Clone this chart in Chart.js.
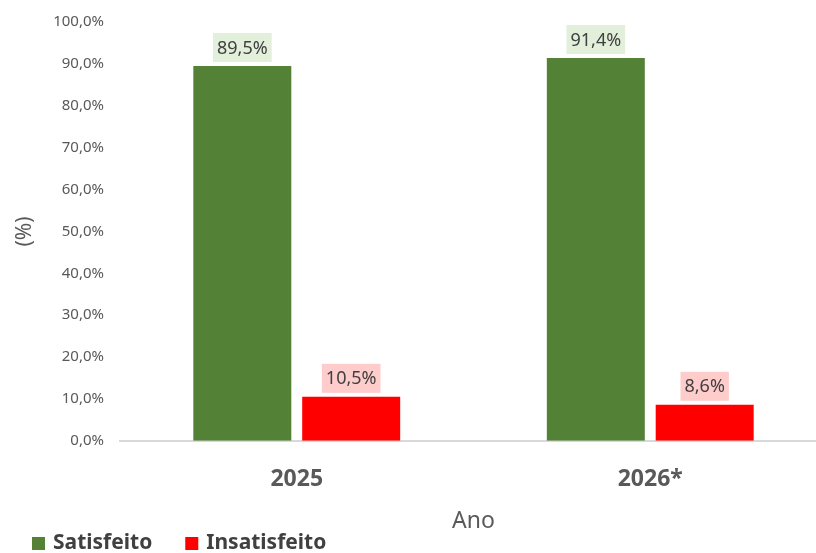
<!DOCTYPE html>
<html>
<head>
<meta charset="utf-8">
<script src="https://cdn.jsdelivr.net/npm/chart.js@4.4.1/dist/chart.umd.min.js"></script>
<style>
    html, body { margin: 0; padding: 0; background: #fff; overflow: hidden; }
    #wrap { width: 816px; height: 553px; overflow: hidden; }
</style>
</head>
<body>
<div id="wrap"><canvas id="chart" width="827" height="553"></canvas></div>
<script>
// --- Data ---
const years = ['2025', '2026*'];
const satisfeito = [89.5, 91.4];
const insatisfeito = [10.5, 8.6];

const FONT = "'Noto Sans', 'Open Sans', sans-serif";

// Draws the value boxes above each bar
const valueLabels = {
    id: 'valueLabels',
    afterDatasetsDraw(chart) {
        const ctx = chart.ctx;
        ctx.save();
        ctx.font = `18px ${FONT}`;
        ctx.textAlign = 'center';
        ctx.textBaseline = 'middle';
        chart.data.datasets.forEach((ds, i) => {
            const meta = chart.getDatasetMeta(i);
            meta.data.forEach((bar, j) => {
                const text = ds.data[j].toFixed(1).replace('.', ',') + '%';
                const w = ctx.measureText(text).width + 8;
                const h = 29;
                const bottom = bar.y - 4;
                ctx.fillStyle = ds.labelBg;
                ctx.fillRect(bar.x - w / 2, bottom - h, w, h);
                ctx.fillStyle = '#404040';
                ctx.fillText(text, bar.x, bottom - h / 2 + 1);
            });
        });
        ctx.restore();
    }
};

// Legend at the bottom-left corner (built-in one couldn't be spaced like the original)
const bottomLegend = {
    id: 'bottomLegend',
    afterDraw(chart) {
        const ctx = chart.ctx;
        ctx.save();
        ctx.font = `bold 21px ${FONT}`;
        ctx.textBaseline = 'middle';
        ctx.textAlign = 'left';
        let x = 32;
        const y = 543;
        chart.data.datasets.forEach(ds => {
            ctx.fillStyle = ds.backgroundColor;
            ctx.fillRect(x, y - 6, 13, 13);
            ctx.fillStyle = '#404040';
            ctx.fillText(ds.label, x + 21, y);
            x += 21 + ctx.measureText(ds.label).width + 33;
        });
        ctx.restore();
    }
};

new Chart(document.getElementById('chart'), {
    type: 'bar',
    data: {
        labels: years,
        datasets: [
            { label: 'Satisfeito', data: satisfeito, backgroundColor: '#538135', labelBg: '#e2efda' },
            { label: 'Insatisfeito', data: insatisfeito, backgroundColor: '#ff0000', labelBg: '#ffcccc' }
        ]
    },
    options: {
        responsive: false,
        animation: false,
        categoryPercentage: 0.616,
        barPercentage: 0.9,
        layout: { padding: { top: 7, left: 8, right: 0, bottom: 18 } },
        plugins: {
            tooltip: { enabled: false },
            legend: { display: false }
        },
        scales: {
            y: {
                min: 0,
                max: 100,
                ticks: {
                    stepSize: 10,
                    color: '#595959',
                    font: { family: FONT, size: 15, lineHeight: 0.8 },
                    padding: 16,
                    callback: v => v.toFixed(1).replace('.', ',') + '%'
                },
                grid: { display: false, drawTicks: false },
                border: { display: false },
                title: {
                    display: true,
                    text: '(%)',
                    color: '#595959',
                    font: { family: FONT, size: 21 },
                    padding: { bottom: 0 }
                }
            },
            x: {
                ticks: {
                    color: '#595959',
                    font: { family: FONT, size: 23, weight: 'bold' },
                    padding: 25
                },
                grid: { display: false, drawTicks: false },
                border: { color: '#d9d9d9', width: 2 },
                title: {
                    display: true,
                    text: 'Ano',
                    color: '#595959',
                    font: { family: FONT, size: 23 },
                    padding: { top: -11, bottom: 0 }
                }
            }
        }
    },
    plugins: [valueLabels, bottomLegend]
});
</script>
</body>
</html>
